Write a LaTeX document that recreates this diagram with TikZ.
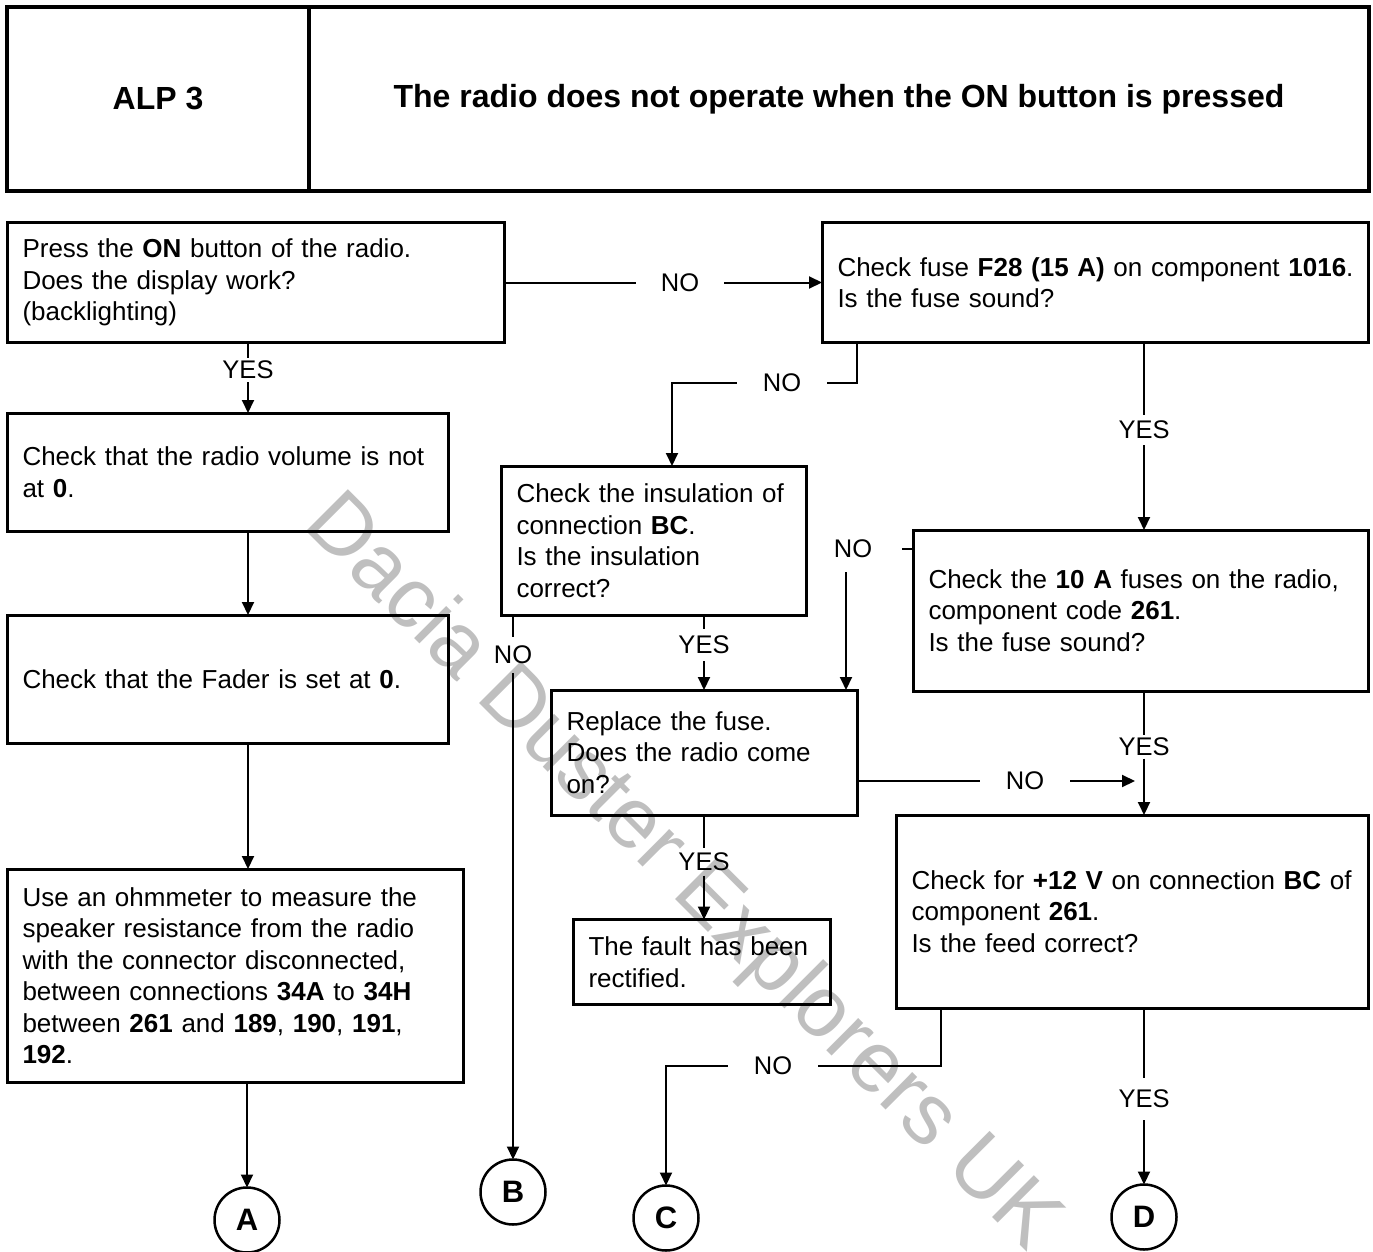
\documentclass[tikz,border=0pt]{standalone}
\usepackage{fontspec}
\setmainfont{Liberation Sans}
\usepackage{tikz}
\usetikzlibrary{arrows.meta,positioning,calc}
\tikzset{
  stepbox/.style={draw,line width=3pt,outer sep=0pt,inner xsep=15.5pt,inner ysep=0pt,
    font=\fontsize{26}{31.5}\selectfont,
    execute at begin node={\rightskip=0pt plus 1fil minus 60pt\parindent=0pt\noindent}},
  headbox/.style={draw,line width=3.2pt,outer sep=0pt,minimum height=184pt,
    font=\bfseries\fontsize{32}{38}\selectfont},
  endpt/.style={circle,draw,line width=2.5pt,minimum size=65pt,inner sep=0pt,outer sep=0pt,
    font=\bfseries\fontsize{31}{36}\selectfont},
  answer/.style={font=\fontsize{25.5}{30}\selectfont,inner xsep=2pt,inner ysep=3pt},
  link/.style={line width=2pt},
  arr/.style={-{Triangle[length=13pt,width=12pt]},line width=2pt},
  watermark/.style={text=black!25,font=\fontsize{86}{90}\selectfont}
}

\begin{document}
\begin{tikzpicture}[x=1pt,y=-1pt]
\useasboundingbox (0,0) rectangle (1373,1252);

\node[watermark,rotate=-45] (wm) at (681,874) {Dacia Duster Explorers UK};

% header
\node[headbox,minimum width=302pt] (alp) at (158,99) {ALP 3};
\node[headbox,minimum width=1060pt] (title) at (839,99)
  {The radio does not operate when the ON button is pressed};

% left column
\node[stepbox,minimum width=497pt,minimum height=119pt,text width=466pt] (press) at (255.5,282.5)
  {Press the \textbf{ON} button of the radio.\\ Does the display work?\\ (backlighting)};
\node[stepbox,minimum width=441pt,minimum height=118pt,text width=410pt] (volume) at (227.5,472)
  {Check that the radio volume is not\\ at \textbf{0}.};
\node[stepbox,minimum width=441pt,minimum height=128pt,text width=410pt] (fader) at (227.5,679)
  {Check that the Fader is set at \textbf{0}.};
\node[stepbox,minimum width=456pt,minimum height=213pt,text width=425pt] (ohm) at (235,975.5)
  {Use an ohmmeter to measure the\\ speaker resistance from the radio\\ with the connector disconnected,\\
   between connections \textbf{34A} to \textbf{34H}\\ between \textbf{261} and \textbf{189}, \textbf{190}, \textbf{191},\\ \textbf{192}.};

% middle and right columns
\node[stepbox,minimum width=546pt,minimum height=119pt,text width=515pt] (fuse28) at (1095,282.5)
  {Check fuse \textbf{F28 (15 A)} on component \textbf{1016}.\\ Is the fuse sound?};
\node[stepbox,minimum width=305pt,minimum height=149pt,text width=274pt] (insul) at (653.5,540.5)
  {Check the insulation of\\ connection \textbf{BC}.\\ Is the insulation\\ correct?};
\node[stepbox,minimum width=455pt,minimum height=161pt,text width=424pt] (fuse10) at (1140.5,610.5)
  {Check the \textbf{10 A} fuses on the radio,\\ component code \textbf{261}.\\ Is the fuse sound?};
\node[stepbox,minimum width=306pt,minimum height=125pt,text width=275pt] (replace) at (704,752.5)
  {Replace the fuse.\\ Does the radio come\\ on?};
\node[stepbox,minimum width=472pt,minimum height=193pt,text width=441pt] (feed) at (1132,911.5)
  {Check for \textbf{+12 V} on connection \textbf{BC} of\\ component \textbf{261}.\\ Is the feed correct?};
\node[stepbox,minimum width=257pt,minimum height=85pt,text width=226pt] (fixed) at (701.5,962)
  {The fault has been\\ rectified.};

% exits
\node[endpt] (endA) at (247,1220) {A};
\node[endpt] (endB) at (513,1192) {B};
\node[endpt] (endC) at (666,1218) {C};
\node[endpt] (endD) at (1144,1217) {D};

% answers
\node[answer,inner xsep=25pt] (no1) at (680,282.5) {NO};
\node[answer,inner ysep=3pt] (yes1) at (248,370) {YES};
\node[answer,inner xsep=26pt] (no2) at (782,383) {NO};
\node[answer,inner ysep=6pt] (yes2) at (1144,430) {YES};
\node[answer,inner xsep=30pt,inner ysep=14pt] (no3) at (853,549) {NO};
\node[answer,inner ysep=9pt] (no4) at (513,655) {NO};
\node[answer,inner ysep=7pt] (yes3) at (704,645) {YES};
\node[answer,inner ysep=2.5pt] (yes4) at (1144,747) {YES};
\node[answer,inner xsep=26pt] (no5) at (1025,781) {NO};
\node[answer,inner ysep=4.5pt] (yes5) at (704,862) {YES};
\node[answer,inner xsep=26pt] (no6) at (773,1066) {NO};
\node[answer,inner ysep=12pt] (yes6) at (1144,1099) {YES};

\coordinate (no3foot) at ([xshift=-7pt]no3.south);

% connectors
\draw[link] (press.east) -- (no1.west);
\draw[arr] (no1.east) -- (fuse28.west);

\draw[link] (press.south -| yes1) -- (yes1.north);
\draw[arr] (yes1.south) -- (volume.north -| yes1);
\draw[arr] (volume.south -| yes1) -- (fader.north -| yes1);
\draw[arr] (fader.south -| yes1) -- (ohm.north -| yes1);
\draw[arr] (ohm.south -| endA) -- (endA.north);

\draw[link] ([xshift=35pt]fuse28.south west) |- (no2.east);
\draw[arr] (no2.west) -| ([xshift=171pt]insul.north west);

\draw[link] (fuse28.south -| yes2) -- (yes2.north);
\draw[arr] (yes2.south) -- (fuse10.north -| yes2);

\draw[link] ([yshift=-19pt]fuse10.north west) -- (no3.east);
\draw[arr] (no3foot) -- (no3foot |- replace.north);

\draw[link] (insul.south -| no4) -- (no4.north);
\draw[arr] (no4.south) -- (endB.north);

\draw[link] (insul.south -| yes3) -- (yes3.north);
\draw[arr] (yes3.south) -- (replace.north -| yes3);

\draw[link] (replace.east |- no5) -- (no5.west);
\draw[arr,shorten >=9pt] (no5.east) -- (no5 -| yes4);

\draw[link] (fuse10.south -| yes4) -- (yes4.north);
\draw[arr] (yes4.south) -- (feed.north -| yes4);

\draw[link] (replace.south -| yes5) -- (yes5.north);
\draw[arr] (yes5.south) -- (fixed.north -| yes5);

\draw[link] ([xshift=45pt]feed.south west) |- (no6.east);
\draw[arr] (no6.west) -| (endC.north);

\draw[link] (feed.south -| yes6) -- (yes6.north);
\draw[arr] (yes6.south) -- (endD.north);

\end{tikzpicture}
\end{document}
